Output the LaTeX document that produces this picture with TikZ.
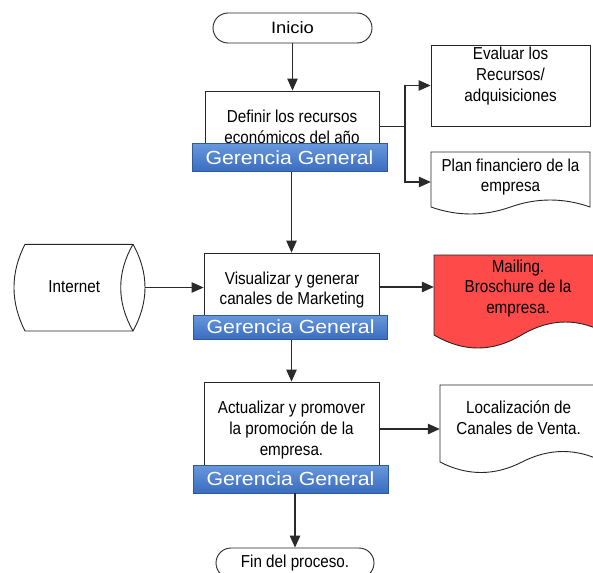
\documentclass[tikz,border=0pt]{standalone}
\usepackage{fontspec}
\setmainfont{Liberation Sans}
\newfontfamily\narrowf[FakeStretch=0.88]{Liberation Sans}
\newfontfamily\widef[FakeStretch=1.12]{Liberation Sans}
\usetikzlibrary{arrows.meta}
\definecolor{lc}{HTML}{2A2A2A}
\definecolor{barTop}{HTML}{6898DC}
\definecolor{barBot}{HTML}{3A6CC0}
\definecolor{barEdge}{HTML}{2F5A9A}
\definecolor{mailred}{HTML}{FF4A4A}
\begin{document}
\begin{tikzpicture}[x=1pt,y=-1pt,
  txt/.style={font=\narrowf\fontsize{17.3}{20.7}\selectfont, align=center, inner sep=0pt},
  box/.style={draw=black!85, line width=0.9pt, fill=white, inner sep=0pt},
  ghost/.style={inner sep=0pt},
  term/.style={draw=black!85, line width=0.9pt, fill=white, rounded corners=15pt, inner sep=0pt, font=\narrowf\fontsize{17.3}{20}\selectfont},
  bar/.style={draw=barEdge, line width=0.6pt, top color=barTop, bottom color=barBot, text=white, font=\widef\fontsize{19}{22}\selectfont, inner sep=0pt},
  docline/.style={draw=black!85, line width=0.9pt},
  link/.style={draw=lc, line width=1.1pt},
  conn/.style={draw=lc, line width=1.1pt, -{Triangle[width=10.5pt,length=12pt]}},
  ]
\useasboundingbox (0,0) rectangle (593,572);

% Inicio
\node[term, minimum width=159pt, minimum height=30pt, font=\widef\fontsize{16.4}{20}\selectfont] (inicio) at (292.5,28) {Inicio};

% Step 1
\node[box, minimum width=174pt, minimum height=71pt] (def) at (292,126.5) {};
\node[txt] (deftxt) at (292,126.5) {Definir los recursos\\económicos del año};
\node[bar, minimum width=195pt, minimum height=28.4pt] (bar1) at (289.5,157.5) {Gerencia General};

% Evaluar
\node[box, minimum width=159pt, minimum height=81pt] (eval) at (510.5,85.5) {};
\node[txt] (evaltxt) at (510.5,76) {Evaluar los\\Recursos/\\adquisiciones};

% Plan financiero (document)
\node[ghost, minimum width=159pt, minimum height=60pt] (plan) at (510.5,182) {};
\draw[docline, fill=white] (431,152) -- (590,152) -- (590,207)
  .. controls (563.5,197.67) and (537,197.67) .. (510.5,207)
  .. controls (484,216.33) and (457.5,216.33) .. (431,207) -- cycle;
\node[txt] (plantxt) at (510.5,177) {Plan financiero de la\\empresa};

% Internet (stored data cylinder)
\node[ghost, minimum width=131pt, minimum height=87pt] (inet) at (79.5,287.5) {};
\draw[docline, fill=white] (25,244.3) -- (133,244.3)
  .. controls (149,273) and (149,302) .. (133,331) -- (25,331)
  .. controls (10.3,302) and (10.3,273) .. (25,244.3) -- cycle;
\draw[docline] (133,244.3) .. controls (116.6,273) and (116.6,302) .. (133,331);
\node[txt] (inettxt) at (74.3,287) {Internet};

% Step 2
\node[box, minimum width=175pt, minimum height=68pt] (vis) at (291.5,287) {};
\node[txt] (vistxt) at (292,290) {Visualizar y generar\\canales de Marketing};
\node[bar, minimum width=194pt, minimum height=24.3pt] (bar2) at (290.6,327.2) {Gerencia General};

% Mailing (document, red)
\node[ghost, minimum width=175pt, minimum height=64pt] (mail) at (521.5,287) {};
\draw[docline, fill=mailred] (434,255) -- (609,255) -- (609,335)
  .. controls (580,317.67) and (551,317.67) .. (521.5,335)
  .. controls (492.5,352.33) and (463.5,352.33) .. (434,335) -- cycle;
\node[txt] (mailtxt) at (518,288.5) {Mailing.\\Broschure de la\\empresa.};

% Step 3
\node[box, minimum width=175pt, minimum height=94pt] (act) at (291.5,429) {};
\node[txt] (acttxt) at (291.5,430) {Actualizar y promover\\la promoción de la\\empresa.};
\node[bar, minimum width=195pt, minimum height=28pt] (bar3) at (290.5,479) {Gerencia General};

% Localizacion (document)
\node[ghost, minimum width=164pt, minimum height=88pt] (loc) at (522,429) {};
\draw[docline, fill=white] (440,385) -- (604,385) -- (604,462)
  .. controls (576.67,448) and (549.33,448) .. (522,462)
  .. controls (494.67,476) and (467.33,476) .. (440,462) -- cycle;
\node[txt] (loctxt) at (518.7,418) {Localización de\\Canales de Venta.};

% Fin
\node[term, minimum width=158pt, minimum height=30pt] (fin) at (295,563) {Fin del proceso.};

% Connectors
\draw[conn] (inicio.south) -- (inicio.south |- def.north);
\coordinate (br) at (405,126.5);
\draw[link] (def.east) -- (br);
\draw[conn] (br) |- (eval.west);
\draw[conn] (br) |- (plan.west);
\draw[conn] (bar1.south -| vis.north) -- (vis.north);
\draw[conn] (inet.east) -- (inet.east -| vis.west);
\draw[conn] (vis.east) -- (mail.west);
\draw[conn] (bar2.south -| act.north) -- (act.north);
\draw[conn] (act.east) -- (loc.west);
\draw[conn] (bar3.south -| fin.north) -- (fin.north);
\end{tikzpicture}
\end{document}
